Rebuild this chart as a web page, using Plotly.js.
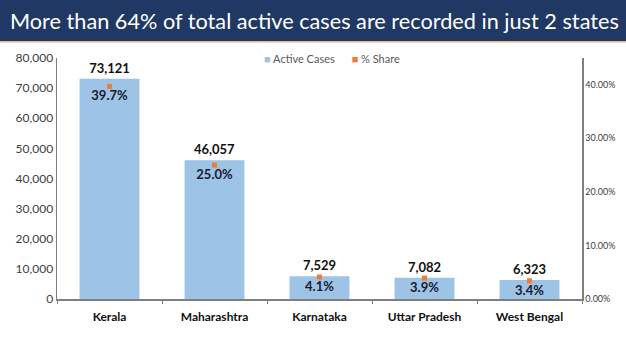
<!DOCTYPE html>
<html><head><meta charset="utf-8">
<script src="https://cdn.plot.ly/plotly-3.0.1.min.js"></script>
<style>html,body{margin:0;padding:0;background:#fff}#c{width:626px;height:352px}</style>
</head><body><div id="c"></div>
<script>
const states = ["Kerala", "Maharashtra", "Karnataka", "Uttar Pradesh", "West Bengal"];
const activeCases = [73121, 46057, 7529, 7082, 6323];
const shareValues = [0.397, 0.250, 0.041, 0.039, 0.034];
const titleText = "More than 64% of total active cases are recorded in just 2 states";
const legendNames = ["Active Cases", "% Share"];
const barColor = "#9DC3E6", shareColor = "#ED7D31";

const bars = {
  type: "bar", name: legendNames[0], x: states, y: activeCases,
  marker: {color: barColor}, width: 0.57,
  text: activeCases.map(v => "<b>" + v.toLocaleString("en-US") + "</b>"),
  textposition: "outside", cliponaxis: false,
  textfont: {family: "Lato, sans-serif", size: 13, color: "#111"},
  hoverinfo: "skip"
};
const share = {
  type: "scatter", mode: "markers+text", name: legendNames[1], x: states, y: shareValues,
  yaxis: "y2", marker: {color: shareColor, symbol: "square", size: 5},
  text: shareValues.map(v => "<b>" + (v*100).toFixed(1) + "%</b>"),
  textposition: "bottom center", cliponaxis: false,
  textfont: {family: "Lato, sans-serif", size: 13, color: "#1a1a2e"},
  hoverinfo: "skip"
};
const H = 241, W = 525;
const layout = {
  width: 626, height: 352,
  margin: {l: 57, r: 44, t: 58, b: 53},
  paper_bgcolor: "#fff", plot_bgcolor: "#fff",
  showlegend: false,
  xaxis: {type: "category", showgrid: false, showline: true, linecolor: "#7f7f7f", linewidth: 1.5,
          ticks: "outside", tickson: "boundaries", ticklen: 3, tickcolor: "#7f7f7f", ticklabelstandoff: 6,
          tickfont: {family: "Lato, sans-serif", size: 12, color: "#111", weight: "bold"}},
  yaxis: {range: [0, 80000], dtick: 10000, tickformat: ",d", showgrid: false, zeroline: false,
          showline: true, linecolor: "#7f7f7f", linewidth: 1.5, ticks: "",
          tickfont: {family: "Lato, sans-serif", size: 12, color: "#404040"}},
  yaxis2: {range: [0, 0.45], dtick: 0.1, tickformat: ".2%", overlaying: "y", side: "right",
           showgrid: false, zeroline: false, showline: true, linecolor: "#7f7f7f", linewidth: 1.5,
           ticks: "", tickfont: {family: "Lato, sans-serif", size: 9, color: "#404040"}},
  shapes: [
    {type: "rect", xref: "paper", yref: "paper", x0: -57/W, x1: 1 + 44/W,
     y0: 1 + 17/H, y1: 1 + 58/H, fillcolor: "#1F3864", line: {width: 0}, layer: "above"},
    {type: "rect", xref: "paper", yref: "paper", x0: -57/W, x1: 1 + 44/W,
     y0: 1 + 15.5/H, y1: 1 + 17/H, fillcolor: "#F4B183", line: {width: 0}, layer: "above"}
  ],
  annotations: [
    {xref: "paper", yref: "paper", x: (314-57)/W, y: 1 + 37.5/H, xanchor: "center", yanchor: "middle",
     text: titleText, showarrow: false,
     font: {family: "Lato, sans-serif", size: 21.7, color: "#ffffff"}},
    {xref: "paper", yref: "paper", x: (262-57)/W, y: 1, xanchor: "left", yanchor: "middle",
     showarrow: false, font: {family: "Lato, sans-serif", size: 11, color: "#595959"},
     text: "<span style='color:" + barColor + "'>■</span> " + legendNames[0] +
           "      <span style='color:" + shareColor + "'>■</span> " + legendNames[1]}
  ]
};
Plotly.newPlot("c", [bars, share], layout, {staticPlot: true});
</script></body></html>
